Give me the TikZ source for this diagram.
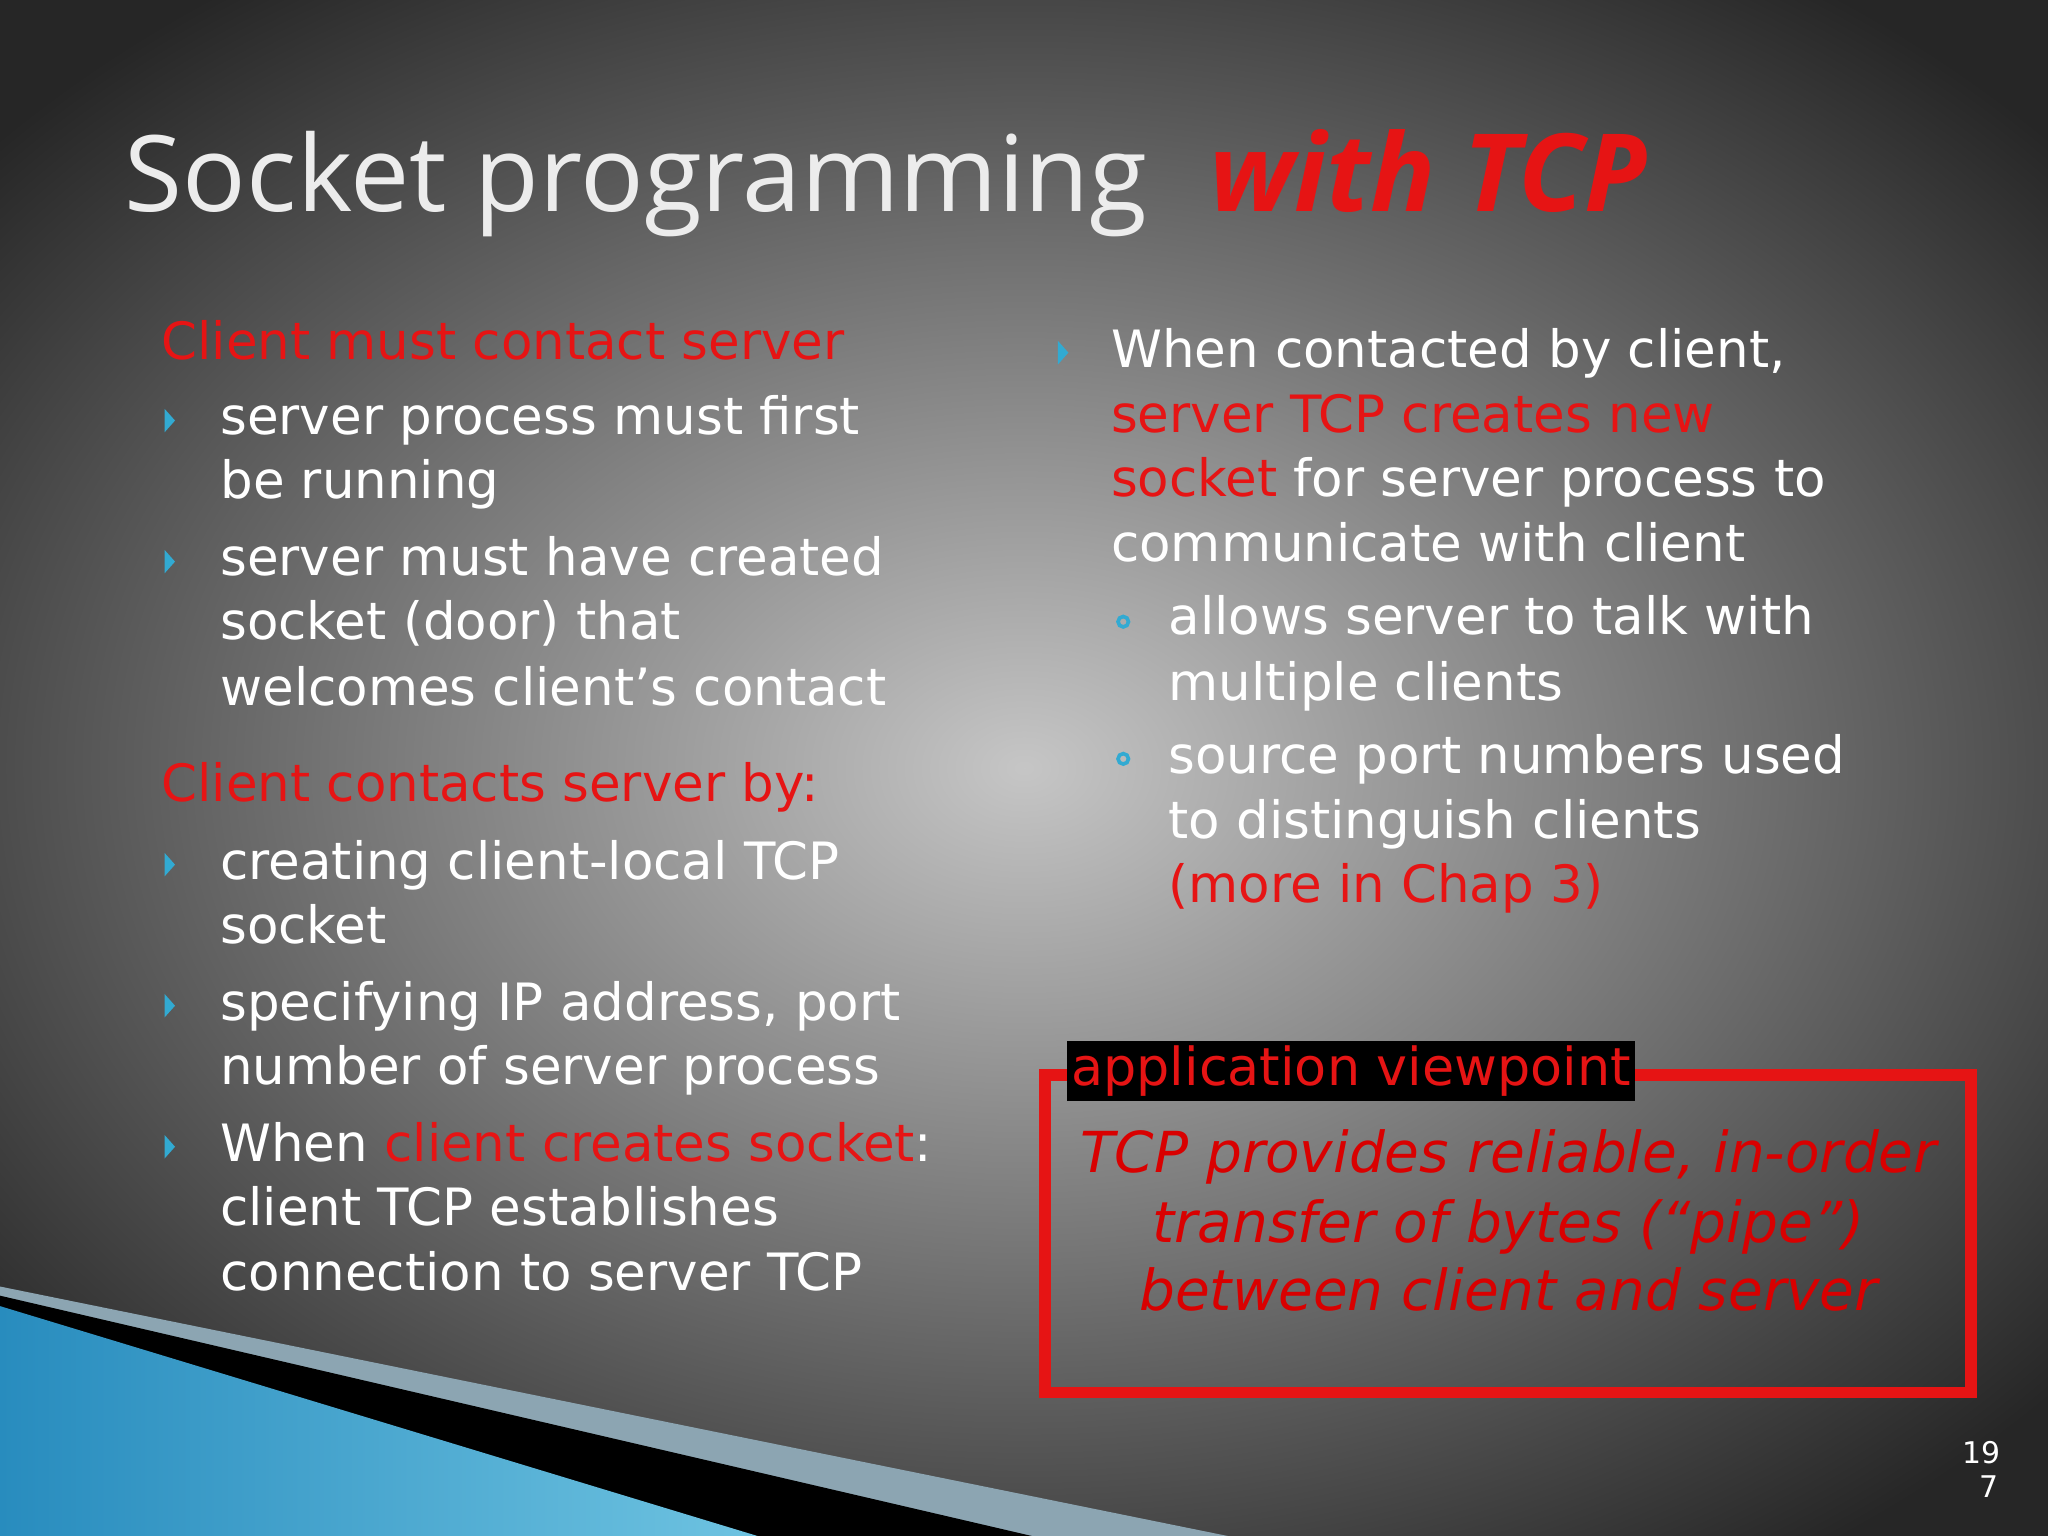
\documentclass[tikz,border=0pt]{standalone}
\usepackage{fontspec}
\setmainfont{DejaVu Sans}
\newfontfamily\titlefont{Open Sans}
\begin{document}
\begin{tikzpicture}[x=0.01cm,y=-0.01cm,
  txt/.style={anchor=base west,inner sep=0pt,text=white,font=\fontsize{11.2}{13}\selectfont},
  red/.style={txt,text=rd},
  bul/.style={fill=bu},
  it/.style={anchor=base,inner sep=0pt,text=red!85!black,font=\fontsize{12.3}{14}\selectfont\itshape}]
\definecolor{rd}{RGB}{230,20,20}
\definecolor{bu}{RGB}{50,170,210}
\definecolor{bl1}{RGB}{40,140,190}
\definecolor{bl2}{RGB}{110,195,225}
\definecolor{lb}{RGB}{140,165,178}
\useasboundingbox (0,0) rectangle (1568,1176);
\begin{scope}
\clip (0,0) rectangle (1568,1176);
\shade[inner color=gray!45,outer color=black!85] (-250,-150) rectangle (1818,1326);
\end{scope}
% bottom-left decoration
\fill[lb] (0,985) -- (940,1176) -- (0,1176) -- cycle;
\fill[black] (0,992) -- (790,1176) -- (0,1176) -- cycle;
\shade[left color=bl1,right color=bl2] (0,1000) -- (580,1176) -- (0,1176) -- cycle;
% title
\node[anchor=base west,inner sep=0pt,text=gray!15,font=\titlefont\fontsize{23}{28}\selectfont] (t1) at (95,162) {Socket programming};
\node[anchor=base west,inner sep=0pt,text=rd,font=\titlefont\fontsize{23.5}{28}\selectfont\itshape\bfseries] (t2) at (925,162) {with TCP};
% left column
\node[red] (l1) at (123,275) {Client must contact server};
\node[txt] (l2) at (168,333) {server process must first};
\node[txt] (l3) at (168,382) {be running};
\node[txt] (l4) at (168,441) {server must have created};
\node[txt] (l5) at (168,490) {socket (door) that};
\node[txt] (l6) at (168,540) {welcomes client’s contact};
\node[red] (l7) at (123,614) {Client contacts server by:};
\node[txt] (l8) at (168,673) {creating client-local TCP};
\node[txt] (l9) at (168,722) {socket};
\node[txt] (l10) at (168,781) {specifying IP address, port};
\node[txt] (l11) at (168,830) {number of server process};
\node[txt] (l12) at (168,889) {When \textcolor{rd}{client creates socket}:};
\node[txt] (l13) at (168,938) {client TCP establishes};
\node[txt] (l14) at (168,988) {connection to server TCP};
\foreach \y in {322,430,662,770,878}
  \fill[bul] (126,\y-9) -- (134,\y) -- (126,\y+9) -- cycle;
% right column
\node[txt] (r1) at (850,281) {When contacted by client,};
\node[red] (r2) at (850,331) {server TCP creates new};
\node[txt] (r3) at (850,380) {\textcolor{rd}{socket} for server process to};
\node[txt] (r4) at (850,430) {communicate with client};
\node[txt] (r5) at (894,486) {allows server to talk with};
\node[txt] (r6) at (894,536) {multiple clients};
\node[txt] (r7) at (894,592) {source port numbers used};
\node[txt] (r8) at (894,642) {to distinguish clients};
\node[red] (r9) at (894,691) {(more in Chap 3)};
\fill[bul] (810,261) -- (818,270) -- (810,279) -- cycle;
\draw[bu,line width=0.8pt] (860,476) circle (4);
\draw[bu,line width=0.8pt] (860,581) circle (4);
% box
\draw[rd,line width=2.5pt] (800,823) rectangle (1509,1066);
\node[fill=black,text=rd,anchor=west,inner sep=1pt,minimum height=0.43cm,font=\fontsize{11.4}{12}\selectfont] (av) at (816,820) {application viewpoint};
\node[it] (b1) at (1155,898) {TCP provides reliable, in-order};
\node[it] (b2) at (1155,951) {transfer of bytes (“pipe”)};
\node[it] (b3) at (1155,1003) {between client and server};
% page number
\node[text=white,font=\fontsize{6.5}{8}\selectfont,inner sep=0pt] (pn1) at (1517,1112) {19};
\node[text=white,font=\fontsize{6.5}{8}\selectfont,inner sep=0pt] (pn2) at (1523,1138) {7};
\end{tikzpicture}
\end{document}
